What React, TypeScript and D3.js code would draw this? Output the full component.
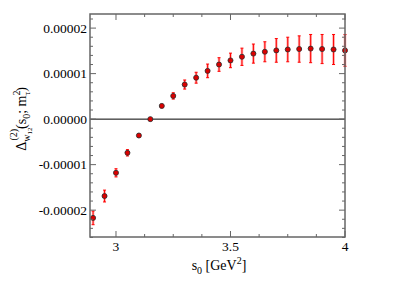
import * as React from "react";
import * as d3 from "d3";

// s0 values [GeV^2]
const s0 = [2.9, 2.95, 3.0, 3.05, 3.1, 3.15, 3.2, 3.25, 3.3, 3.35, 3.4, 3.45,
  3.5, 3.55, 3.6, 3.65, 3.7, 3.75, 3.8, 3.85, 3.9, 3.95, 4.0];
// central values (units of 1e-5)
const delta = [-2.17, -1.69, -1.18, -0.74, -0.36, 0.0, 0.29, 0.51, 0.76, 0.91, 1.06, 1.2,
  1.29, 1.37, 1.44, 1.48, 1.51, 1.53, 1.54, 1.55, 1.54, 1.53, 1.51];
// errors (units of 1e-5)
const err = [0.15, 0.13, 0.09, 0.07, 0.03, 0.02, 0.04, 0.07, 0.1, 0.12, 0.15, 0.15,
  0.16, 0.19, 0.21, 0.22, 0.26, 0.27, 0.29, 0.31, 0.32, 0.33, 0.35];
const yTicks = [-0.00002, -0.00001, 0, 0.00001, 0.00002];
const yLabels = ["-0.00002", "-0.00001", "0.00000", "0.00001", "0.00002"];
const xTicks = [3, 3.5, 4];

const margin = { left: 90, top: 14, right: 58, bottom: 48 };
const W = 403, H = 285;

export default function App() {
  const iw = W - margin.left - margin.right;
  const ih = H - margin.top - margin.bottom;
  const x = d3.scaleLinear().domain([2.8865, 4]).range([0, iw]);
  const y = d3.scaleLinear().domain([-0.0000259, 0.0000231]).range([ih, 0]);

  const xMinor = d3.range(0, 10).map(i => 2.875 + i * 0.125).filter(v => v > 2.8865 && v <= 4 && !xTicks.includes(v));
  const yMinor = d3.range(-26, 24, 2).map(v => v * 1e-6).filter(v => Math.abs(v * 1e5 - Math.round(v * 1e5)) > 1e-6);

  const pts = s0.map((s, i) => ({ s, v: delta[i] * 1e-5, e: err[i] * 1e-5 }));
  const frame = "#666";
  const serif = "Liberation Serif, Times New Roman, DejaVu Serif, serif";

  return (
    <svg width={W} height={H} style={{ position: "absolute", left: 0, top: 0, fontFamily: serif }}>
      <rect width={W} height={H} fill="#fff" />
      <g transform={`translate(${margin.left},${margin.top})`}>
        <line x1={0} x2={iw} y1={y(0)} y2={y(0)} stroke="#000" strokeWidth={1} />
        {pts.map((p, i) => (
          <g key={i}>
            <line x1={x(p.s)} x2={x(p.s)} y1={y(p.v - p.e)} y2={y(p.v + p.e)} stroke="#f88" strokeOpacity={0.7} strokeWidth={2.6} />
            <line x1={x(p.s)} x2={x(p.s)} y1={y(p.v - p.e)} y2={y(p.v + p.e)} stroke="#f00" strokeWidth={1} />
            <line x1={x(p.s) - 1.5} x2={x(p.s) + 1.5} y1={y(p.v - p.e)} y2={y(p.v - p.e)} stroke="#f00" strokeWidth={1} />
            <line x1={x(p.s) - 1.5} x2={x(p.s) + 1.5} y1={y(p.v + p.e)} y2={y(p.v + p.e)} stroke="#f00" strokeWidth={1} />
            <circle cx={x(p.s)} cy={y(p.v)} r={2.5} fill="#b00" stroke="#333" strokeWidth={0.9} />
            <rect x={x(p.s) - 1.6} y={y(p.v) - 1.6} width={3.2} height={3.2} fill="#d00" />
          </g>
        ))}
        <rect x={0} y={0} width={iw} height={ih} fill="none" stroke={frame} strokeWidth={1.5} />
        {xTicks.map(t => (
          <g key={"x" + t}>
            <line x1={x(t)} x2={x(t)} y1={ih} y2={ih - 6} stroke={frame} />
            <line x1={x(t)} x2={x(t)} y1={0} y2={6} stroke={frame} />
            <text x={x(t)} y={ih + 14} textAnchor="middle" fontSize={13.5} fill="#000">{t}</text>
          </g>
        ))}
        {xMinor.map(t => (
          <g key={"xm" + t}>
            <line x1={x(t)} x2={x(t)} y1={ih} y2={ih - 3} stroke={frame} />
            <line x1={x(t)} x2={x(t)} y1={0} y2={3} stroke={frame} />
          </g>
        ))}
        {yTicks.map((t, i) => (
          <g key={"y" + t}>
            <line x1={0} x2={6} y1={y(t)} y2={y(t)} stroke={frame} />
            <line x1={iw} x2={iw - 6} y1={y(t)} y2={y(t)} stroke={frame} />
            <text x={-3} y={y(t) + 4.5} textAnchor="end" fontSize={13.5} fill="#000">{yLabels[i]}</text>
          </g>
        ))}
        {yMinor.map(t => (
          <g key={"ym" + t}>
            <line x1={0} x2={3} y1={y(t)} y2={y(t)} stroke={frame} />
            <line x1={iw} x2={iw - 3} y1={y(t)} y2={y(t)} stroke={frame} />
          </g>
        ))}
      </g>
      <text x={219} y={270} textAnchor="middle" fontSize={14} fill="#000">
        s<tspan fontSize={10} dy={4}>0</tspan><tspan dy={-4}> [GeV</tspan><tspan fontSize={10} dy={-6}>2</tspan><tspan dy={6}>]</tspan>
      </text>
      <g transform="translate(26,119) rotate(-90)">
        <text x={0} y={0} textAnchor="middle" fontSize={14} fill="#000">
          Δ<tspan fontSize={10} dy={4}>w</tspan><tspan fontSize={7} dy={2}>12</tspan><tspan fontSize={10} dx={-13} dy={-15}>(2)</tspan><tspan dy={9}>(s</tspan><tspan fontSize={10} dy={4}>0</tspan><tspan dy={-4}>; m</tspan><tspan fontSize={10} dy={-6}>2</tspan><tspan fontSize={9} dx={-5} dy={10}>τ</tspan><tspan dy={-4}>)</tspan>
        </text>
      </g>
    </svg>
  );
}
